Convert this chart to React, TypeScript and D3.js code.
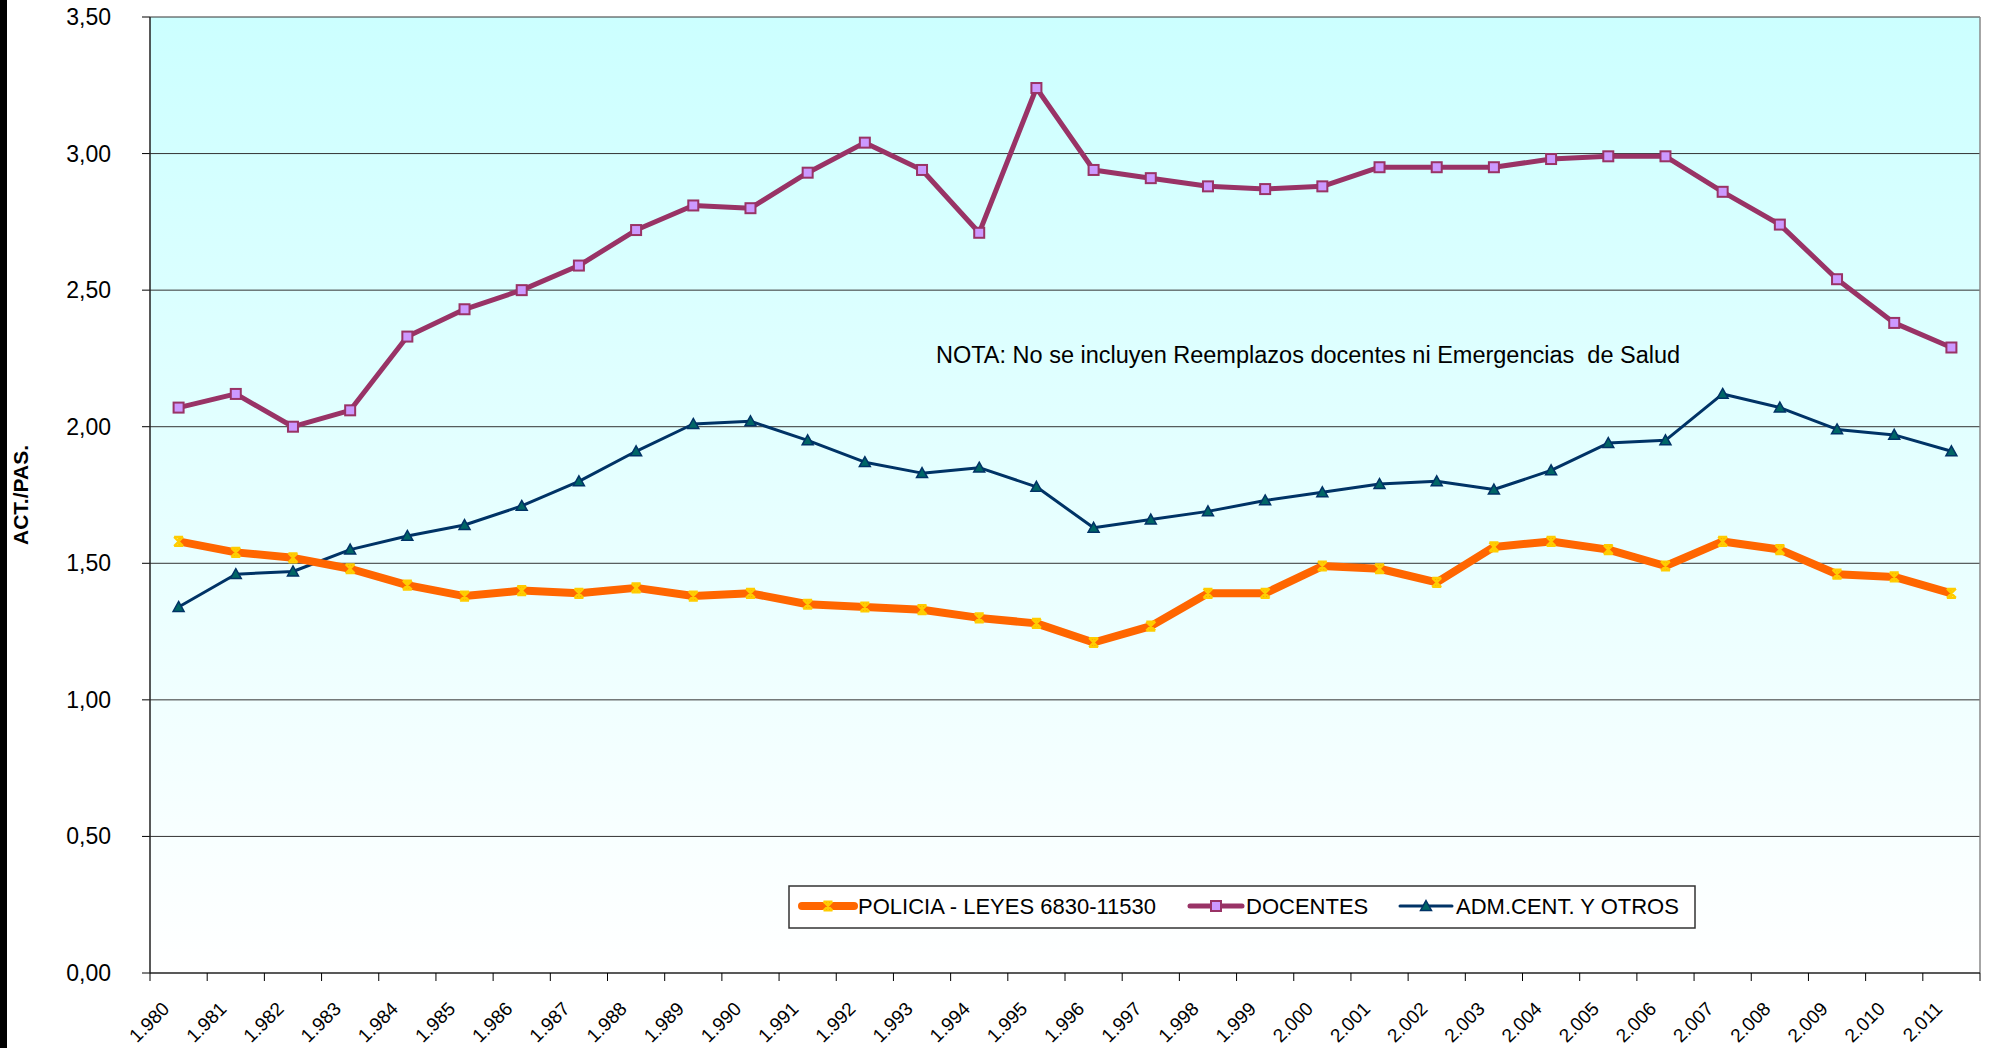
import React from "react";
import * as d3 from "d3";

// años 1980 - 2011
const years = [
  1980, 1981, 1982, 1983, 1984, 1985, 1986, 1987, 1988, 1989, 1990, 1991, 1992, 1993, 1994, 1995,
  1996, 1997, 1998, 1999, 2000, 2001, 2002, 2003, 2004, 2005, 2006, 2007, 2008, 2009, 2010, 2011,
];

const policia = [
  1.58, 1.54, 1.52, 1.48, 1.42, 1.38, 1.4, 1.39, 1.41, 1.38, 1.39, 1.35, 1.34, 1.33, 1.3, 1.28,
  1.21, 1.27, 1.39, 1.39, 1.49, 1.48, 1.43, 1.56, 1.58, 1.55, 1.49, 1.58, 1.55, 1.46, 1.45, 1.39,
];

const docentes = [
  2.07, 2.12, 2.0, 2.06, 2.33, 2.43, 2.5, 2.59, 2.72, 2.81, 2.8, 2.93, 3.04, 2.94, 2.71, 3.24,
  2.94, 2.91, 2.88, 2.87, 2.88, 2.95, 2.95, 2.95, 2.98, 2.99, 2.99, 2.86, 2.74, 2.54, 2.38, 2.29,
];

const admCent = [
  1.34, 1.46, 1.47, 1.55, 1.6, 1.64, 1.71, 1.8, 1.91, 2.01, 2.02, 1.95, 1.87, 1.83, 1.85, 1.78,
  1.63, 1.66, 1.69, 1.73, 1.76, 1.79, 1.8, 1.77, 1.84, 1.94, 1.95, 2.12, 2.07, 1.99, 1.97, 1.91,
];

const seriesNames = ["POLICIA - LEYES 6830-11530", "DOCENTES", "ADM.CENT. Y OTROS"];
const nota = "NOTA: No se incluyen Reemplazos docentes ni Emergencias\u00a0 de Salud";
const yLabel = "ACT./PAS.";

const W = 1989;
const H = 1048;
const left = 150;
const right = 1980;
const top = 17;
const bottom = 973;
const FONT = "'Liberation Sans', Arial, sans-serif";

const es = d3.formatLocale({ decimal: ",", thousands: ".", grouping: [3], currency: ["$", ""] });
const fmtYear = es.format(",d");
const fmtVal = es.format(",.2f");

const starPath = (s: number) =>
  `M${-s},${-s}L${s},${s}M${s},${-s}L${-s},${s}M${-s},${-s}H${s}M${-s},${s}H${s}M0,${-s}V${s}`;
const triPath = (s: number) => `M0,${-s}L${s},${s * 0.8}L${-s},${s * 0.8}Z`;

export default function App() {
  const x = d3.scaleBand<number>().domain(years).range([left, right]);
  const y = d3.scaleLinear().domain([0, 3.5]).range([bottom, top]);
  const cx = (yr: number) => (x(yr) as number) + x.bandwidth() / 2;

  const line = d3
    .line<number>()
    .x((_, i) => cx(years[i]))
    .y((d) => y(d));

  const yTicks = y.ticks(7);
  const edges = years.map((yr) => x(yr) as number).concat([right]);

  const legendItems = [
    { name: seriesNames[0], x0: 802, kind: "star" },
    { name: seriesNames[1], x0: 1190, kind: "square" },
    { name: seriesNames[2], x0: 1400, kind: "tri" },
  ];

  const marker = (kind: string, px: number, py: number, key: any) => {
    if (kind === "star")
      return (
        <path key={key} d={starPath(4.5)} transform={`translate(${px},${py})`} fill="none" stroke="#FFCC00" strokeWidth={2.2} />
      );
    if (kind === "square")
      return (
        <rect key={key} x={px - 5} y={py - 5} width={10} height={10} fill="#CC99FF" stroke="#993366" strokeWidth={2} />
      );
    return (
      <path key={key} d={triPath(5.5)} transform={`translate(${px},${py})`} fill="#006666" stroke="#003366" strokeWidth={1.5} />
    );
  };

  return (
    <div style={{ position: "absolute", left: 0, top: 0 }}>
      <svg width={W} height={H} style={{ display: "block", fontFamily: FONT }}>
        <defs>
          <linearGradient id="bg" x1="0" y1="0" x2="0" y2="1">
            <stop offset="0" stopColor="#CCFFFF" />
            <stop offset="1" stopColor="#FFFFFF" />
          </linearGradient>
        </defs>
        <rect x={0} y={0} width={W} height={H} fill="#fff" />
        <rect x={0} y={0} width={7} height={H} fill="#000" />

        <rect x={left} y={top} width={right - left} height={bottom - top} fill="url(#bg)" />

        {yTicks.map((t) => (
          <g key={t}>
            {t > 0 && <line x1={left} x2={right} y1={y(t)} y2={y(t)} stroke="#333" strokeWidth={1} />}
            <line x1={left - 8} x2={left} y1={y(t)} y2={y(t)} stroke="#000" />
            <text x={111} y={y(t)} dy="0.35em" textAnchor="end" fontSize={23} fill="#000">
              {fmtVal(t)}
            </text>
          </g>
        ))}
        <line x1={right} x2={right} y1={top} y2={bottom} stroke="#888" strokeWidth={1.5} />
        <line x1={left} x2={left} y1={top} y2={bottom} stroke="#222" strokeWidth={1.5} />
        <line x1={left} x2={right} y1={bottom} y2={bottom} stroke="#222" strokeWidth={1.5} />
        {edges.map((e, i) => (
          <line key={i} x1={e} x2={e} y1={bottom} y2={bottom + 8} stroke="#000" />
        ))}
        {years.map((yr) => (
          <text
            key={yr}
            transform={`translate(${cx(yr) - 8},${bottom + 37}) rotate(-45)`}
            textAnchor="end"
            fontSize={19}
            fill="#000"
          >
            {fmtYear(yr)}
          </text>
        ))}

        <text
          transform={`translate(28,495) rotate(-90)`}
          textAnchor="middle"
          fontSize={21}
          fontWeight="bold"
          fill="#000"
        >
          {yLabel}
        </text>

        <text x={936} y={363} fontSize={23.5} fill="#000">
          {nota}
        </text>

        <path d={line(docentes) as string} fill="none" stroke="#993366" strokeWidth={5} strokeLinejoin="round" />
        {docentes.map((d, i) => marker("square", cx(years[i]), y(d), "d" + i))}

        <path d={line(admCent) as string} fill="none" stroke="#003366" strokeWidth={3} strokeLinejoin="round" />
        {admCent.map((d, i) => marker("tri", cx(years[i]), y(d), "a" + i))}

        <path d={line(policia) as string} fill="none" stroke="#FF6600" strokeWidth={8} strokeLinejoin="round" />
        {policia.map((d, i) => marker("star", cx(years[i]), y(d), "p" + i))}

        <rect x={789} y={886} width={906} height={42} fill="#fff" stroke="#333" strokeWidth={1.5} />
        {legendItems.map((it, i) => (
          <g key={i}>
            <line
              x1={it.x0}
              x2={it.x0 + 52}
              y1={906}
              y2={906}
              stroke={i === 0 ? "#FF6600" : i === 1 ? "#993366" : "#003366"}
              strokeWidth={i === 0 ? 8 : i === 1 ? 5 : 3}
              strokeLinecap="round"
            />
            {marker(it.kind, it.x0 + 26, 906, "m" + i)}
            <text x={it.x0 + 56} y={906} dy="0.36em" fontSize={22} fill="#000">
              {it.name}
            </text>
          </g>
        ))}
      </svg>
    </div>
  );
}
